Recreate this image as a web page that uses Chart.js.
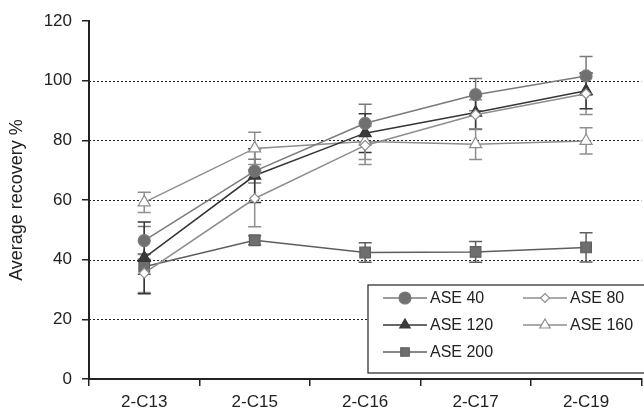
<!DOCTYPE html>
<html>
<head>
<meta charset="utf-8">
<script src="https://cdn.jsdelivr.net/npm/chart.js"></script>
<style>
  html, body { margin: 0; padding: 0; overflow: hidden; background: #fff; }
  #wrap { width: 650px; height: 415px; }
</style>
</head>
<body>
<div id="wrap"><canvas id="chart" width="650" height="415"></canvas></div>
<script>
// Datos
const categories = ['2-C13', '2-C15', '2-C16', '2-C17', '2-C19'];
const yTicks = [0, 20, 40, 60, 80, 100, 120];

const ase40 = [46.4, 69.7, 85.7, 95.3, 101.6];
const ase40Err = [4.7, 4.0, 6.4, 5.4, 6.5];
const ase80 = [35.5, 60.5, 78.3, 88.6, 95.6];
const ase80Err = [6.5, 9.5, 6.4, 5.0, 6.9];
const ase120 = [40.6, 68.2, 82.4, 89.3, 96.6];
const ase120Err = [12.0, 9.0, 6.5, 5.6, 6.0];
const ase160 = [59.2, 77.3, 79.6, 78.7, 79.8];
const ase160Err = [3.4, 5.4, 6.0, 5.1, 4.4];
const ase200 = [37.6, 46.5, 42.4, 42.6, 44.1];
const ase200Err = [2.5, 1.5, 3.3, 3.5, 4.9];

const FONT = "'Liberation Sans', Arial, sans-serif";
const TEXT = '#222';

function serie(label, data, err, color, fill, style, radius) {
  return {
    label, data, err,
    borderColor: color,
    backgroundColor: fill,
    pointBackgroundColor: fill,
    pointBorderColor: color,
    pointBorderWidth: 1.2,
    pointStyle: style,
    pointRadius: radius,
    pointHoverRadius: radius,
    borderWidth: 1.5,
    tension: 0
  };
}

// Lineas punteadas horizontales y barras de error
const gridYBarras = {
  id: 'gridYBarras',
  beforeDatasetsDraw(chart) {
    const { ctx, chartArea, scales } = chart;
    ctx.save();
    ctx.strokeStyle = '#222';
    ctx.lineWidth = 1;
    ctx.setLineDash([2, 2]);
    yTicks.forEach(v => {
      if (v === 0 || v === 120) return;
      const y = Math.round(scales.y.getPixelForValue(v)) + 0.5;
      ctx.beginPath();
      ctx.moveTo(chartArea.left, y);
      ctx.lineTo(chartArea.right, y);
      ctx.stroke();
    });
    ctx.setLineDash([]);
    chart.data.datasets.forEach(ds => {
      ctx.strokeStyle = ds.borderColor;
      ctx.lineWidth = 1.5;
      ds.data.forEach((v, i) => {
        const x = scales.x.getPixelForValue(i);
        const yHi = scales.y.getPixelForValue(v + ds.err[i]);
        const yLo = scales.y.getPixelForValue(v - ds.err[i]);
        ctx.beginPath();
        ctx.moveTo(x, yHi); ctx.lineTo(x, yLo);
        ctx.moveTo(x - 6.5, yHi); ctx.lineTo(x + 6.5, yHi);
        ctx.moveTo(x - 6.5, yLo); ctx.lineTo(x + 6.5, yLo);
        ctx.stroke();
      });
    });
    ctx.restore();
  }
};

// Leyenda dentro de un recuadro, abajo a la derecha
const leyendaCaja = {
  id: 'leyendaCaja',
  afterDraw(chart) {
    const { ctx, chartArea } = chart;
    const left = chartArea.left + 279;
    const top = chartArea.top + 264;
    ctx.save();
    ctx.fillStyle = '#fff';
    ctx.fillRect(left, top, 320, 88);
    ctx.strokeStyle = '#222';
    ctx.lineWidth = 1.2;
    ctx.strokeRect(left, top, 320, 88);
    ctx.font = '16px ' + FONT;
    ctx.textBaseline = 'middle';
    chart.data.datasets.forEach((ds, i) => {
      const x0 = left + 15 + (i % 2) * 140;
      const y = top + 13 + Math.floor(i / 2) * 27;
      ctx.strokeStyle = ds.borderColor;
      ctx.lineWidth = 1.5;
      ctx.beginPath();
      ctx.moveTo(x0, y); ctx.lineTo(x0 + 44, y);
      ctx.stroke();
      ctx.fillStyle = ds.pointBackgroundColor;
      ctx.lineWidth = 1.2;
      Chart.helpers.drawPoint(ctx, {
        pointStyle: ds.pointStyle,
        radius: ds.pointStyle === 'rectRot' ? 4.5 : 6,
        rotation: 0,
        borderWidth: 1.2
      }, x0 + 22, y);
      ctx.fillStyle = TEXT;
      ctx.fillText(ds.label, x0 + 47, y + 1);
    });
    ctx.restore();
  }
};

new Chart(document.getElementById('chart'), {
  type: 'line',
  data: {
    labels: categories,
    datasets: [
      serie('ASE 40', ase40, ase40Err, '#7a7a7a', '#707070', 'circle', 6),
      serie('ASE 80', ase80, ase80Err, '#8e8e8e', '#ffffff', 'rectRot', 5),
      serie('ASE 120', ase120, ase120Err, '#363636', '#3a3a3a', 'triangle', 7),
      serie('ASE 160', ase160, ase160Err, '#8e8e8e', '#ffffff', 'triangle', 7),
      serie('ASE 200', ase200, ase200Err, '#5e5e5e', '#6e6e6e', 'rect', 7.5)
    ]
  },
  options: {
    responsive: false,
    animation: false,
    layout: { padding: { top: 21, right: 2, left: 0, bottom: 0 } },
    plugins: { legend: { display: false }, tooltip: { enabled: false } },
    scales: {
      x: {
        offset: true,
        grid: { offset: true, drawOnChartArea: false, drawTicks: true, tickLength: 7, color: '#222', lineWidth: 1.5 },
        border: { color: '#222', width: 2 },
        ticks: { color: TEXT, font: { family: FONT, size: 17 }, padding: 6, maxRotation: 0 },
        afterFit: s => { s.height = 36; }
      },
      y: {
        min: 0, max: 120,
        afterBuildTicks: s => { s.ticks = yTicks.map(v => ({ value: v })); },
        grid: { drawOnChartArea: false, drawTicks: true, tickLength: 7, color: '#222', lineWidth: 1.5 },
        border: { color: '#222', width: 2 },
        ticks: { color: TEXT, font: { family: FONT, size: 17 }, padding: 10 },
        title: { display: true, text: 'Average recovery %', color: TEXT, font: { family: FONT, size: 18 }, padding: { top: 6, bottom: 0 } },
        afterFit: s => { s.width = 89; }
      }
    }
  },
  plugins: [gridYBarras, leyendaCaja]
});
</script>
</body>
</html>
